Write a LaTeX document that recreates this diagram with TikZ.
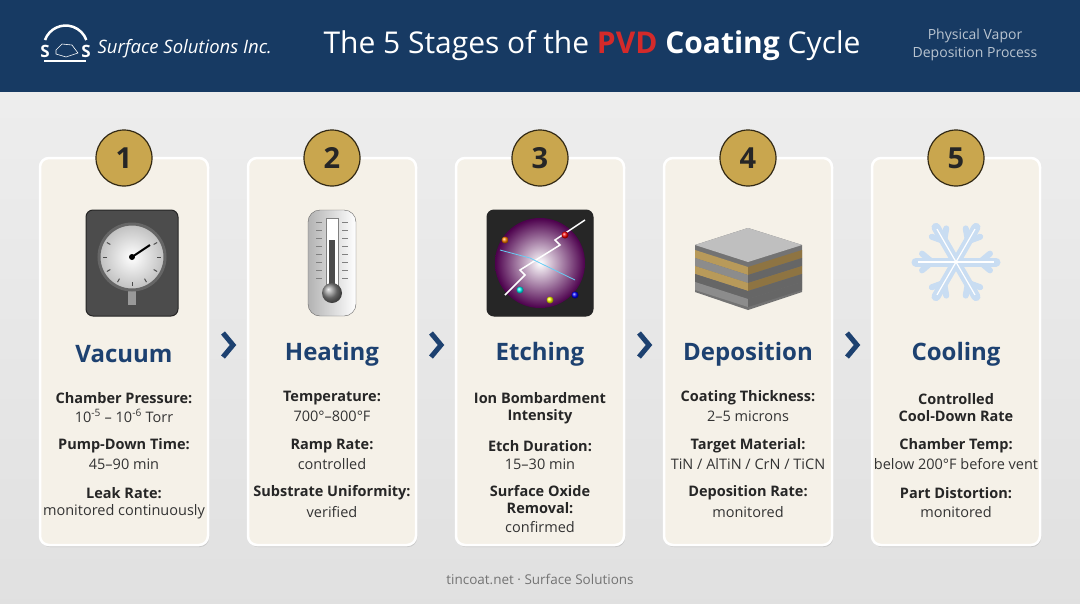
\documentclass[tikz,border=0pt]{standalone}
\usepackage{fontspec}
\setmainfont{Open Sans}
\usetikzlibrary{shadows,calc}
\definecolor{navy}{HTML}{173A63}
\definecolor{ttl}{HTML}{1D4170}
\definecolor{gold}{HTML}{C9A64E}
\definecolor{card}{HTML}{F5F1E8}
\definecolor{pvd}{HTML}{D42A2A}
\definecolor{goldA}{HTML}{B89A5A}
\definecolor{goldB}{HTML}{8E7442}
\definecolor{greyA}{HTML}{8C8C8C}
\definecolor{greyB}{HTML}{666666}
\definecolor{ice}{HTML}{C9DDF2}
\begin{document}
\begin{tikzpicture}[x=1pt,y=-1pt,
 cardS/.style={draw=white,line width=2.5pt,fill=card,rounded corners=9pt,drop shadow={opacity=0.25,shadow xshift=1pt,shadow yshift=-2pt}},
 num/.style={circle,draw=black!75!gold,line width=1.2pt,fill=gold,minimum size=56pt,inner sep=0pt,font=\fontsize{29}{29}\selectfont\bfseries,text=black!85},
 head/.style={font=\fontsize{24}{24}\selectfont\bfseries,text=ttl},
 lab/.style={font=\fontsize{14.5}{17}\selectfont\bfseries,text=black!85,align=center},
 val/.style={font=\fontsize{14.5}{17}\selectfont,text=black!80,align=center},
 chev/.style={draw=ttl,line width=5pt},
 iconbox/.style={rounded corners=7pt,fill=black!70,draw=black!85,line width=1pt}]
\useasboundingbox (0,0) rectangle (1080,603);
\shade[top color=black!7,bottom color=black!12] (0,92) rectangle (1080,603);
\fill[navy] (0,0) rectangle (1080,92);
% logo
\draw[white,line width=2.5pt] (45,40) arc[start angle=200,end angle=340,radius=22];
\draw[white,line width=2pt] (44,61) -- (86,61);
\draw[white!70,line width=0.6pt] (56,50)--(62,44)--(72,45)--(78,53)--(66,57)--(56,54)--cycle;
\node[text=white,font=\fontsize{17}{17}\selectfont\bfseries] (ls1) at (45,51) {S};
\node[text=white,font=\fontsize{17}{17}\selectfont\bfseries] (ls2) at (86,51) {S};
\node[anchor=west,text=white,font=\fontsize{18.5}{18.5}\selectfont\itshape] (logo) at (94,49) {Surface Solutions Inc.};
\node[text=white,font=\fontsize{30}{30}\selectfont] (title) at (592,46) {The 5 Stages of the {\color{pvd}\bfseries PVD} {\bfseries Coating} Cycle};
\node[text=white!70!navy,align=center,font=\fontsize{14}{18}\selectfont] (sub) at (975,45) {Physical Vapor\\Deposition Process};
\node[text=black!55,font=\fontsize{13.5}{13.5}\selectfont] (foot) at (540,579) {tincoat.net · Surface Solutions};
% cards
\foreach \i/\x in {1/40,2/248,3/456,4/664,5/872}{
  \draw[cardS] (\x,158) rectangle ++(168,387);
  \node[num] (n\i) at (\x+84,158) {\i};
}
\foreach \x in {228,436,644,852}{
  \draw[chev] (\x-5,333) -- (\x+5,345) -- (\x-5,357);
}
% icon 1 gauge
\draw[iconbox] (86,210) rectangle (178,316);
\fill[black!40] (128,290) rectangle (136,305);
\shade[inner color=white,outer color=black!25,draw=black!60,line width=3pt] (132,257) circle (33);
\foreach \a in {210,180,...,-30}{\draw[black!70,line width=1pt] ($(132,257)+(\a:25)$) -- ($(132,257)+(\a:29)$);}
\draw[black,line width=2pt] (132,257) -- (150,245);
\fill[black] (132,257) circle (3);
% icon 2 thermometer
\shade[left color=black!30,right color=white,draw=black!60,rounded corners=12pt] (308,210) rectangle (356,316);
\fill[white,draw=black!50] (326,218) rectangle (338,285);
\fill[black!70] (329,240) rectangle (335,290);
\shade[ball color=black!45] (332,293) circle (10);
\foreach \yy in {222,230,...,278}{\draw[black!50] (316,\yy)--(322,\yy); \draw[black!50] (342,\yy)--(348,\yy);}
% icon 3 etching
\draw[iconbox,fill=black!85] (487,210) rectangle (593,316);
\shade[inner color=white,outer color=violet!60!black] (540,263) circle (45);
\draw[white,line width=1.5pt] (505,295)--(525,275)--(520,270)--(560,245)--(555,240)--(585,220);
\draw[cyan!60,line width=0.8pt] (500,250)--(530,258)--(540,263)--(575,280);
\foreach \p/\c in {{(505,240)}/orange,{(575,295)}/blue,{(520,290)}/cyan,{(565,235)}/red,{(550,300)}/yellow}{\shade[ball color=\c] \p circle (3.5);}
% icon 4 layered block
\fill[black!55] (695,245) -- (748,228) -- (802,245) -- (802,292) -- (748,310) -- (695,292) -- cycle;
\fill[black!25] (695,245) -- (748,228) -- (802,245) -- (748,262) -- cycle;
\foreach \yy/\c/\d in {0/goldA/goldB,8/greyA/greyB,16/goldA/goldB,24/greyB/black!60,32/greyA/greyB}{
  \fill[\c] (695,250+\yy) -- (748,267+\yy) -- (748,275+\yy) -- (695,258+\yy) -- cycle;
  \fill[\d] (748,267+\yy) -- (802,250+\yy) -- (802,258+\yy) -- (748,275+\yy) -- cycle;}
% icon 5 snowflake
\foreach \a in {0,60,...,300}{
  \draw[ice,line width=9pt,line cap=round] (956,262) -- ++(\a:40);
  \draw[ice,line width=6pt,line cap=round] ($(956,262)+(\a:24)$) -- ++(\a+40:13);
  \draw[ice,line width=6pt,line cap=round] ($(956,262)+(\a:24)$) -- ++(\a-40:13);
}
\foreach \a in {0,60,...,300}{
  \draw[white,line width=1.2pt] (956,262) -- ++(\a:38);
}
% headings and text
\node[head] (h1) at (124,354) {Vacuum};
\node[head] (h2) at (332,354) {Heating};
\node[head] (h3) at (540,354) {Etching};
\node[head] (h4) at (748,354) {Deposition};
\node[head] (h5) at (956,354) {Cooling};
\node[lab] (t11) at (124,398) {Chamber Pressure:};
\node[val] (t12) at (124,416) {10\textsuperscript{-5} – 10\textsuperscript{-6} Torr};
\node[lab] (t13) at (124,446) {Pump-Down Time:};
\node[val] (t14) at (124,464) {45–90 min};
\node[lab] (t15) at (124,493) {Leak Rate:};
\node[val] (t16) at (124,512) {monitored continuously};
\node[lab] (t21) at (332,398) {Temperature:};
\node[val] (t22) at (332,416) {700°–800°F};
\node[lab] (t23) at (332,446) {Ramp Rate:};
\node[val] (t24) at (332,464) {controlled};
\node[lab] (t25) at (332,493) {Substrate Uniformity:};
\node[val] (t26) at (332,512) {verified};
\node[lab] (t31) at (540,408) {Ion Bombardment\\Intensity};
\node[lab] (t33) at (540,446) {Etch Duration:};
\node[val] (t34) at (540,464) {15–30 min};
\node[lab] (t35) at (540,500) {Surface Oxide\\Removal:};
\node[val] (t36) at (540,527) {confirmed};
\node[lab] (t41) at (748,398) {Coating Thickness:};
\node[val] (t42) at (748,416) {2–5 microns};
\node[lab] (t43) at (748,446) {Target Material:};
\node[val] (t44) at (748,464) {TiN / AlTiN / CrN / TiCN};
\node[lab] (t45) at (748,493) {Deposition Rate:};
\node[val] (t46) at (748,512) {monitored};
\node[lab] (t51) at (956,408) {Controlled\\Cool-Down Rate};
\node[lab] (t53) at (956,446) {Chamber Temp:};
\node[val] (t54) at (956,464) {below 200°F before vent};
\node[lab] (t55) at (956,493) {Part Distortion:};
\node[val] (t56) at (956,512) {monitored};
\end{tikzpicture}
\end{document}
